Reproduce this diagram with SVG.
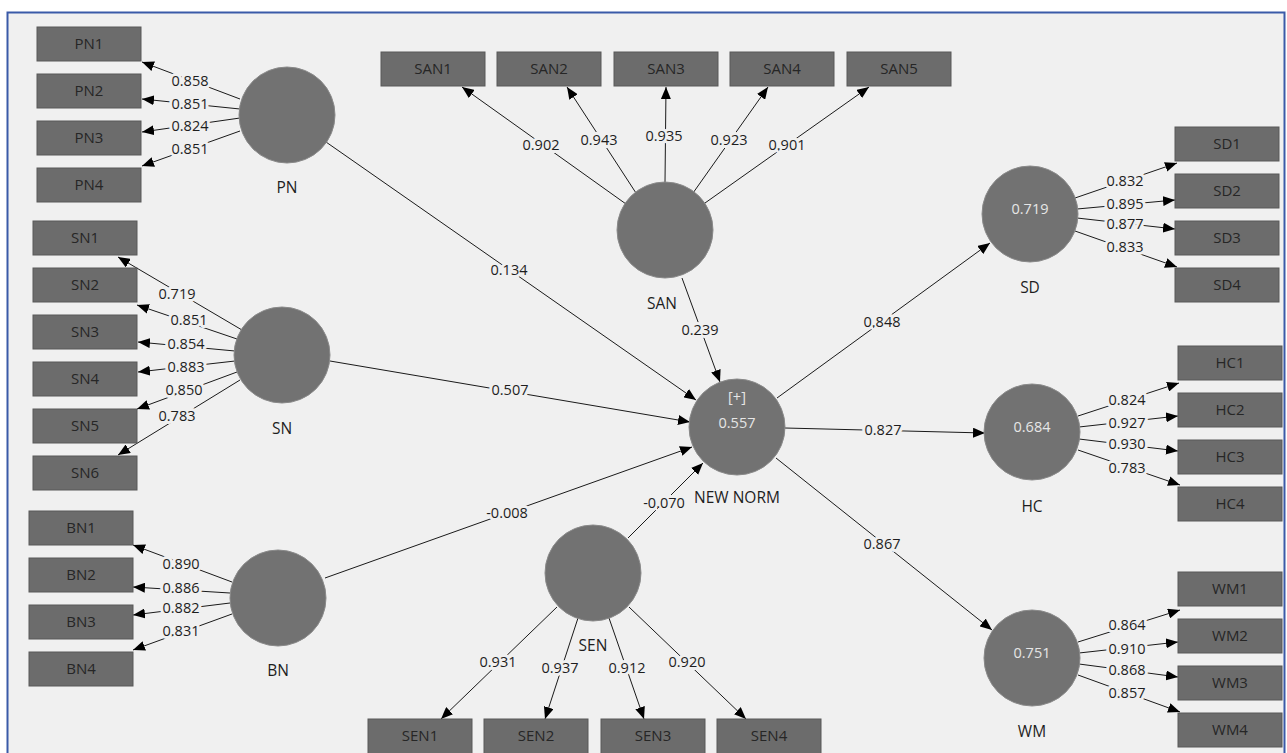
<svg xmlns="http://www.w3.org/2000/svg" width="1287" height="753" viewBox="0 0 1287 753">
<defs>
<marker id="ah" markerUnits="userSpaceOnUse" markerWidth="12" markerHeight="10" refX="12" refY="5" orient="auto"><path d="M0,0 L12,5 L0,10 z" fill="#000"/></marker>
<style>
.box{fill:#6c6c6c;stroke:#585858;stroke-width:1}
.bt{font-family:"Open Sans","DejaVu Sans",sans-serif;font-size:15px;fill:#262626;text-anchor:middle}
.lv{fill:#727272;stroke:#8a8a8a;stroke-width:1}
.lt{font-family:"Open Sans","DejaVu Sans",sans-serif;font-size:15.5px;fill:#1e1e1e;text-anchor:middle}
.it{font-family:"Open Sans","DejaVu Sans",sans-serif;font-size:14.5px;fill:#e6e6e6;text-anchor:middle}
.el{font-family:"Open Sans","DejaVu Sans",sans-serif;font-size:14.5px;fill:#1e1e1e;text-anchor:middle;stroke:#f0f0f0;stroke-width:6;paint-order:stroke;stroke-linejoin:round}
.ln{stroke:#1a1a1a;stroke-width:1;fill:none;marker-end:url(#ah)}
</style>
</defs>
<rect x="0" y="0" width="1287" height="753" fill="#ffffff"/>
<rect x="7.5" y="12.5" width="1277" height="760" fill="#f0f0f0" stroke="#3a5aa8" stroke-width="2"/>

<g id="connectors">
<line class="ln" x1="240" y1="99" x2="142" y2="62"/>
<line class="ln" x1="240" y1="109" x2="142" y2="99"/>
<line class="ln" x1="240" y1="118" x2="142" y2="132"/>
<line class="ln" x1="240" y1="131" x2="142" y2="166"/>
<line class="ln" x1="242" y1="330" x2="118" y2="257"/>
<line class="ln" x1="237" y1="339" x2="137" y2="305"/>
<line class="ln" x1="235" y1="351" x2="138" y2="342"/>
<line class="ln" x1="235" y1="361" x2="138" y2="372"/>
<line class="ln" x1="237" y1="372" x2="137" y2="409"/>
<line class="ln" x1="240" y1="380" x2="118" y2="455"/>
<line class="ln" x1="232" y1="582" x2="133" y2="545"/>
<line class="ln" x1="230" y1="593" x2="133" y2="587"/>
<line class="ln" x1="230" y1="603" x2="133" y2="615"/>
<line class="ln" x1="232" y1="614" x2="133" y2="650"/>
<line class="ln" x1="626" y1="204" x2="462" y2="87"/>
<line class="ln" x1="636" y1="193" x2="567" y2="87"/>
<line class="ln" x1="665" y1="182" x2="666" y2="87"/>
<line class="ln" x1="693" y1="193" x2="768" y2="87"/>
<line class="ln" x1="705" y1="203" x2="869" y2="87"/>
<line class="ln" x1="1075" y1="198" x2="1177" y2="163"/>
<line class="ln" x1="1077" y1="209" x2="1175" y2="200"/>
<line class="ln" x1="1077" y1="218" x2="1175" y2="229"/>
<line class="ln" x1="1075" y1="231" x2="1177" y2="267"/>
<line class="ln" x1="1078" y1="416" x2="1179" y2="383"/>
<line class="ln" x1="1079" y1="427" x2="1178" y2="416"/>
<line class="ln" x1="1079" y1="439" x2="1178" y2="451"/>
<line class="ln" x1="1078" y1="450" x2="1180" y2="485"/>
<line class="ln" x1="1078" y1="642" x2="1180" y2="610"/>
<line class="ln" x1="1079" y1="653" x2="1178" y2="642"/>
<line class="ln" x1="1079" y1="664" x2="1178" y2="677"/>
<line class="ln" x1="1078" y1="675" x2="1180" y2="712"/>
<line class="ln" x1="557" y1="607" x2="441" y2="719"/>
<line class="ln" x1="578" y1="618" x2="545" y2="719"/>
<line class="ln" x1="609" y1="618" x2="644" y2="719"/>
<line class="ln" x1="629" y1="607" x2="746" y2="719"/>
<line class="ln" x1="326" y1="142" x2="696" y2="400"/>
<line class="ln" x1="330" y1="361" x2="690" y2="422"/>
<line class="ln" x1="325" y1="578" x2="692" y2="447"/>
<line class="ln" x1="628" y1="538" x2="703" y2="463"/>
<line class="ln" x1="682" y1="278" x2="720" y2="382"/>
<line class="ln" x1="777" y1="398" x2="990" y2="243"/>
<line class="ln" x1="785" y1="428" x2="985" y2="433"/>
<line class="ln" x1="776" y1="458" x2="992" y2="630"/>

<text class="el" x="190" y="86">0.858</text>
<text class="el" x="190" y="109">0.851</text>
<text class="el" x="190" y="131">0.824</text>
<text class="el" x="190" y="154">0.851</text>
<text class="el" x="177" y="299">0.719</text>
<text class="el" x="189" y="325">0.851</text>
<text class="el" x="186" y="349">0.854</text>
<text class="el" x="186" y="372">0.883</text>
<text class="el" x="184" y="395">0.850</text>
<text class="el" x="177" y="421">0.783</text>
<text class="el" x="181" y="569">0.890</text>
<text class="el" x="181" y="593">0.886</text>
<text class="el" x="181" y="613">0.882</text>
<text class="el" x="181" y="636">0.831</text>
<text class="el" x="541" y="150">0.902</text>
<text class="el" x="599" y="145">0.943</text>
<text class="el" x="664" y="141">0.935</text>
<text class="el" x="729" y="145">0.923</text>
<text class="el" x="787" y="150">0.901</text>
<text class="el" x="1125" y="186">0.832</text>
<text class="el" x="1125" y="209">0.895</text>
<text class="el" x="1125" y="229">0.877</text>
<text class="el" x="1125" y="252">0.833</text>
<text class="el" x="1127" y="405">0.824</text>
<text class="el" x="1127" y="428">0.927</text>
<text class="el" x="1127" y="449">0.930</text>
<text class="el" x="1127" y="473">0.783</text>
<text class="el" x="1127" y="630">0.864</text>
<text class="el" x="1127" y="654">0.910</text>
<text class="el" x="1127" y="675">0.868</text>
<text class="el" x="1127" y="698">0.857</text>
<text class="el" x="498" y="667">0.931</text>
<text class="el" x="560" y="673">0.937</text>
<text class="el" x="627" y="673">0.912</text>
<text class="el" x="687" y="667">0.920</text>
<text class="el" x="509" y="275">0.134</text>
<text class="el" x="510" y="395">0.507</text>
<text class="el" x="507" y="518">-0.008</text>
<text class="el" x="664" y="508">-0.070</text>
<text class="el" x="700" y="335">0.239</text>
<text class="el" x="882" y="327">0.848</text>
<text class="el" x="883" y="435">0.827</text>
<text class="el" x="882" y="549">0.867</text>
</g>

<g id="PN"><circle class="lv" cx="287" cy="115" r="48"/><text class="lt" x="287" y="193">PN</text></g>
<g id="SN"><circle class="lv" cx="282" cy="355" r="48"/><text class="lt" x="282" y="434">SN</text></g>
<g id="BN"><circle class="lv" cx="278" cy="598" r="48"/><text class="lt" x="278" y="676">BN</text></g>
<g id="SAN"><circle class="lv" cx="665" cy="230" r="48"/><text class="lt" x="662" y="309">SAN</text></g>
<g id="NEWNORM"><circle class="lv" cx="737" cy="427" r="48"/><text class="it" x="737" y="402">[+]</text><text class="it" x="737" y="428">0.557</text><text class="lt" x="737" y="503">NEW NORM</text></g>
<g id="SEN"><circle class="lv" cx="593" cy="573" r="48"/><text class="lt" x="593" y="651">SEN</text></g>
<g id="SD"><circle class="lv" cx="1030" cy="214" r="48"/><text class="it" x="1030" y="214">0.719</text><text class="lt" x="1030" y="293">SD</text></g>
<g id="HC"><circle class="lv" cx="1032" cy="432" r="48"/><text class="it" x="1032" y="432">0.684</text><text class="lt" x="1032" y="512">HC</text></g>
<g id="WM"><circle class="lv" cx="1032" cy="658" r="48"/><text class="it" x="1032" y="658">0.751</text><text class="lt" x="1032" y="737">WM</text></g>

<g id="PN1"><rect class="box" x="37" y="27" width="104" height="34"/><text class="bt" x="89" y="49">PN1</text></g>
<g id="PN2"><rect class="box" x="37" y="74" width="104" height="34"/><text class="bt" x="89" y="96">PN2</text></g>
<g id="PN3"><rect class="box" x="37" y="121" width="104" height="34"/><text class="bt" x="89" y="143">PN3</text></g>
<g id="PN4"><rect class="box" x="37" y="168" width="104" height="34"/><text class="bt" x="89" y="190">PN4</text></g>
<g id="SN1"><rect class="box" x="33" y="221" width="104" height="34"/><text class="bt" x="85" y="243">SN1</text></g>
<g id="SN2"><rect class="box" x="33" y="268" width="104" height="34"/><text class="bt" x="85" y="290">SN2</text></g>
<g id="SN3"><rect class="box" x="33" y="315" width="104" height="34"/><text class="bt" x="85" y="337">SN3</text></g>
<g id="SN4"><rect class="box" x="33" y="362" width="104" height="34"/><text class="bt" x="85" y="384">SN4</text></g>
<g id="SN5"><rect class="box" x="33" y="409" width="104" height="34"/><text class="bt" x="85" y="431">SN5</text></g>
<g id="SN6"><rect class="box" x="33" y="456" width="104" height="34"/><text class="bt" x="85" y="478">SN6</text></g>
<g id="BN1"><rect class="box" x="29" y="511" width="104" height="34"/><text class="bt" x="81" y="533">BN1</text></g>
<g id="BN2"><rect class="box" x="29" y="558" width="104" height="34"/><text class="bt" x="81" y="580">BN2</text></g>
<g id="BN3"><rect class="box" x="29" y="605" width="104" height="34"/><text class="bt" x="81" y="627">BN3</text></g>
<g id="BN4"><rect class="box" x="29" y="652" width="104" height="34"/><text class="bt" x="81" y="674">BN4</text></g>
<g id="SAN1"><rect class="box" x="381" y="52" width="104" height="34"/><text class="bt" x="433" y="74">SAN1</text></g>
<g id="SAN2"><rect class="box" x="497" y="52" width="104" height="34"/><text class="bt" x="549" y="74">SAN2</text></g>
<g id="SAN3"><rect class="box" x="614" y="52" width="104" height="34"/><text class="bt" x="666" y="74">SAN3</text></g>
<g id="SAN4"><rect class="box" x="730" y="52" width="104" height="34"/><text class="bt" x="782" y="74">SAN4</text></g>
<g id="SAN5"><rect class="box" x="847" y="52" width="104" height="34"/><text class="bt" x="899" y="74">SAN5</text></g>
<g id="SD1"><rect class="box" x="1175" y="127" width="104" height="34"/><text class="bt" x="1227" y="149">SD1</text></g>
<g id="SD2"><rect class="box" x="1175" y="174" width="104" height="34"/><text class="bt" x="1227" y="196">SD2</text></g>
<g id="SD3"><rect class="box" x="1175" y="221" width="104" height="34"/><text class="bt" x="1227" y="243">SD3</text></g>
<g id="SD4"><rect class="box" x="1175" y="268" width="104" height="34"/><text class="bt" x="1227" y="290">SD4</text></g>
<g id="HC1"><rect class="box" x="1178" y="346" width="104" height="34"/><text class="bt" x="1230" y="368">HC1</text></g>
<g id="HC2"><rect class="box" x="1178" y="393" width="104" height="34"/><text class="bt" x="1230" y="415">HC2</text></g>
<g id="HC3"><rect class="box" x="1178" y="440" width="104" height="34"/><text class="bt" x="1230" y="462">HC3</text></g>
<g id="HC4"><rect class="box" x="1178" y="487" width="104" height="34"/><text class="bt" x="1230" y="509">HC4</text></g>
<g id="WM1"><rect class="box" x="1178" y="572" width="104" height="34"/><text class="bt" x="1230" y="594">WM1</text></g>
<g id="WM2"><rect class="box" x="1178" y="619" width="104" height="34"/><text class="bt" x="1230" y="641">WM2</text></g>
<g id="WM3"><rect class="box" x="1178" y="666" width="104" height="34"/><text class="bt" x="1230" y="688">WM3</text></g>
<g id="WM4"><rect class="box" x="1178" y="713" width="104" height="34"/><text class="bt" x="1230" y="735">WM4</text></g>
<g id="SEN1"><rect class="box" x="368" y="719" width="104" height="36"/><text class="bt" x="420" y="741">SEN1</text></g>
<g id="SEN2"><rect class="box" x="484" y="719" width="104" height="36"/><text class="bt" x="536" y="741">SEN2</text></g>
<g id="SEN3"><rect class="box" x="601" y="719" width="104" height="36"/><text class="bt" x="653" y="741">SEN3</text></g>
<g id="SEN4"><rect class="box" x="717" y="719" width="104" height="36"/><text class="bt" x="769" y="741">SEN4</text></g>
</svg>
